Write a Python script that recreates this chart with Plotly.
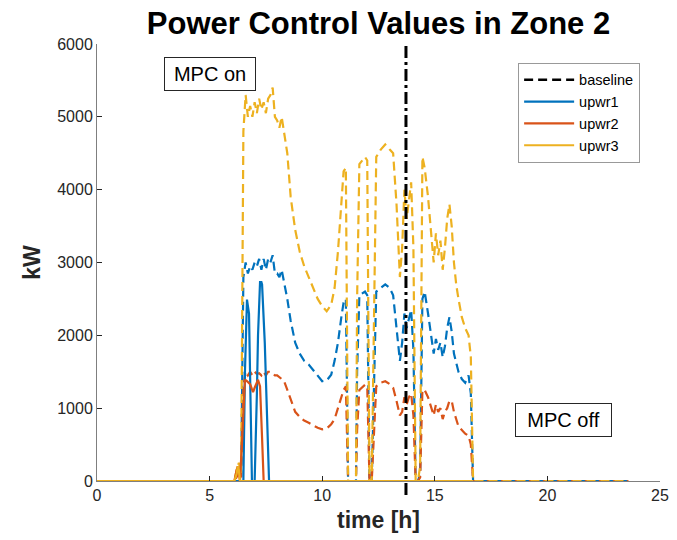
import plotly.graph_objects as go

# ---------------- data ----------------
# MPC (solid) series
t_mpc = [0, 6.1, 6.2, 6.25, 6.3, 6.35, 6.45, 6.5, 6.57, 6.66, 6.75, 6.8, 6.88,
         6.93, 7.0, 7.1, 7.15, 7.24, 7.3, 7.33, 7.4, 7.45, 7.55, 7.64, 16.7]
upwr1 = [0, 0, 0, 0, 0, 0, 0, 0, 1500, 2490, 2300, 1500, 0,
         0, 0, 1200, 2000, 2730, 2730, 2700, 2300, 1900, 900, 0, 0]
upwr2 = [0, 0, 150, 200, 100, 0, 600, 1000, 1390, 1370, 1340, 1330, 1260,
         1220, 1280, 1370, 1390, 1300, 900, 590, 0, 0, 0, 0, 0]
upwr3 = [0, 0, 100, 200, 150, 0, 0, 0, 0, 0, 0, 0, 0,
         0, 0, 0, 0, 0, 0, 0, 0, 0, 0, 0, 0]

# baseline (dashed) series
t_base = [0, 6.1, 6.2, 6.3, 6.4, 6.5, 6.6, 6.7, 6.8, 6.9,
          7.0, 7.1, 7.2, 7.3, 7.4, 7.5, 7.6, 7.7, 7.8, 7.9,
          8.0, 8.1, 8.2, 8.3, 8.45, 8.6, 8.8, 9.0, 9.2, 9.4,
          9.6, 9.8, 10.0, 10.2, 10.4, 10.55, 10.7, 10.85, 10.95, 11.05,
          11.1, 11.15, 11.5, 11.55, 11.65, 11.9, 12.0, 12.1, 12.2, 12.3,
          12.4, 12.6, 12.8, 13.0, 13.15, 13.3, 13.45, 13.55, 13.65, 13.75,
          13.85, 13.95, 14.05, 14.15, 14.25, 14.35, 14.45, 14.55, 14.7, 14.85,
          14.95, 15.05, 15.15, 15.25, 15.35, 15.45, 15.55, 15.65, 15.75, 15.85,
          15.95, 16.05, 16.2, 16.35, 16.5, 16.6, 16.7, 23.6]
base1 = [0, 0, 80, 150, 60, 2800, 3000, 2850, 2950, 2900,
         3000, 2950, 3050, 2900, 3050, 2900, 3050, 3000, 3100, 2850,
         2850, 2800, 2900, 2750, 2500, 2200, 1900, 1750, 1650, 1600,
         1520, 1440, 1370, 1380, 1460, 1650, 1900, 2250, 2450, 2500,
         1200, 0, 0, 1500, 2550, 2600, 2550, 0, 0, 1500,
         2600, 2650, 2700, 2650, 2550, 2100, 1650, 1900, 2300, 2100,
         2250, 2350, 1800, 0, 0, 100, 2500, 2600, 2300, 1950,
         1750, 1950, 1800, 1900, 1700, 1850, 2100, 2250, 2050, 1750,
         1600, 1500, 1400, 1350, 1450, 1200, 0, 0]
base2 = [0, 0, 50, 150, 50, 1300, 1500, 1450, 1500, 1450,
         1500, 1470, 1480, 1450, 1500, 1450, 1500, 1500, 1480, 1450,
         1450, 1420, 1400, 1380, 1250, 1100, 950, 880, 830, 800,
         760, 730, 710, 720, 780, 850, 1000, 1150, 1250, 1300,
         600, 0, 0, 700, 1250, 1320, 1300, 0, 0, 700,
         1300, 1350, 1370, 1330, 1280, 1100, 900, 950, 1150, 1050,
         1150, 1200, 900, 0, 0, 50, 1250, 1250, 1150, 1000,
         900, 1050, 950, 1000, 850, 950, 1000, 1100, 1100, 950,
         850, 750, 700, 650, 620, 500, 0, 0]
base3 = [0, 0, 150, 250, 100, 4800, 5300, 5000, 5150, 5000,
         5200, 5050, 5250, 5100, 5200, 5050, 5250, 5300, 5400, 5000,
         4950, 4850, 5000, 4800, 4500, 3900, 3450, 3150, 2950, 2800,
         2650, 2500, 2400, 2330, 2420, 2650, 3150, 3800, 4250, 4300,
         2000, 0, 0, 2500, 4350, 4450, 4400, 0, 0, 2500,
         4450, 4550, 4620, 4550, 4500, 3800, 2800, 3200, 4000, 3600,
         3900, 4100, 3200, 0, 0, 200, 4450, 4300, 3900, 3300,
         3000, 3400, 3100, 3300, 2900, 3200, 3600, 3800, 3500, 3000,
         2700, 2500, 2250, 2100, 2000, 1700, 0, 0]

t_switch = 13.72  # time of the vertical dash-dot marker
x_ticks = [0, 5, 10, 15, 20, 25]
y_ticks = [0, 1000, 2000, 3000, 4000, 5000, 6000]

series_names = ["upwr1", "upwr2", "upwr3"]
colors = ["#0072BD", "#D95319", "#EDB120"]

FONT = "Liberation Sans, Arial, sans-serif"
DASH = "9px,5px"

fig = go.Figure()

# dashed baseline curves (not in legend)
for yv, c in zip([base1, base2, base3], colors):
    fig.add_trace(go.Scatter(x=t_base, y=yv, mode="lines",
                             line=dict(color=c, width=2.2, dash=DASH),
                             showlegend=False, hoverinfo="skip"))

# legend entry for baseline
fig.add_trace(go.Scatter(x=[None], y=[None], mode="lines", name="baseline",
                         line=dict(color="black", width=2.5, dash="9px,5px")))

# solid MPC curves
for yv, c, n in zip([upwr1, upwr2, upwr3], colors, series_names):
    fig.add_trace(go.Scatter(x=t_mpc, y=yv, mode="lines", name=n,
                             line=dict(color=c, width=2.2)))

fig.add_shape(type="line", xref="x", yref="paper", x0=t_switch, x1=t_switch,
              y0=-0.032, y1=1.0,
              line=dict(color="black", width=3, dash="12px,4px,3px,4px"))

axis_common = dict(showline=True, linecolor="#7f7f7f", linewidth=1,
                   ticks="inside", ticklen=5, tickcolor="#262626",
                   showgrid=False, zeroline=False, mirror=False,
                   automargin=False,
                   tickfont=dict(family=FONT, size=16, color="#262626"))

fig.update_layout(
    width=677, height=540,
    margin=dict(l=97, r=17, t=44, b=59, autoexpand=False),
    paper_bgcolor="white", plot_bgcolor="white",
    title=dict(text="Power Control Values in Zone 2", x=0.5, xref="paper",
               xanchor="center", y=0.957, yanchor="middle",
               font=dict(family=FONT, size=31, color="black", weight="bold")),
    xaxis=dict(range=[0, 25], tickvals=x_ticks,
               title=dict(text="time [h]", standoff=8,
                          font=dict(family=FONT, size=23, color="#262626", weight="bold")),
               **axis_common),
    yaxis=dict(range=[0, 6000], tickvals=y_ticks,
               title=dict(text="kW", standoff=10,
                          font=dict(family=FONT, size=23, color="#262626", weight="bold")),
               **axis_common),
    legend=dict(x=0.748, y=0.957, xanchor="left", yanchor="top",
                bgcolor="white", bordercolor="#999999", borderwidth=1,
                font=dict(family=FONT, size=14.5, color="black"),
                itemwidth=50, tracegroupgap=0),
    showlegend=True,
    annotations=[
        dict(text="MPC on", x=0.2007, y=0.931, xref="paper", yref="paper",
             showarrow=False, xanchor="center", yanchor="middle",
             font=dict(family=FONT, size=20, color="black"),
             bgcolor="white", bordercolor="#262626", borderwidth=1,
             borderpad=5, width=80),
        dict(text="MPC off", x=0.8286, y=0.1407, xref="paper", yref="paper",
             showarrow=False, xanchor="center", yanchor="middle",
             font=dict(family=FONT, size=20, color="black"),
             bgcolor="white", bordercolor="#262626", borderwidth=1,
             borderpad=5, width=85),
    ],
)

fig.write_html("out.html", config={"displayModeBar": False},
               post_script="document.body.style.margin='0px';document.body.style.overflow='hidden';")
